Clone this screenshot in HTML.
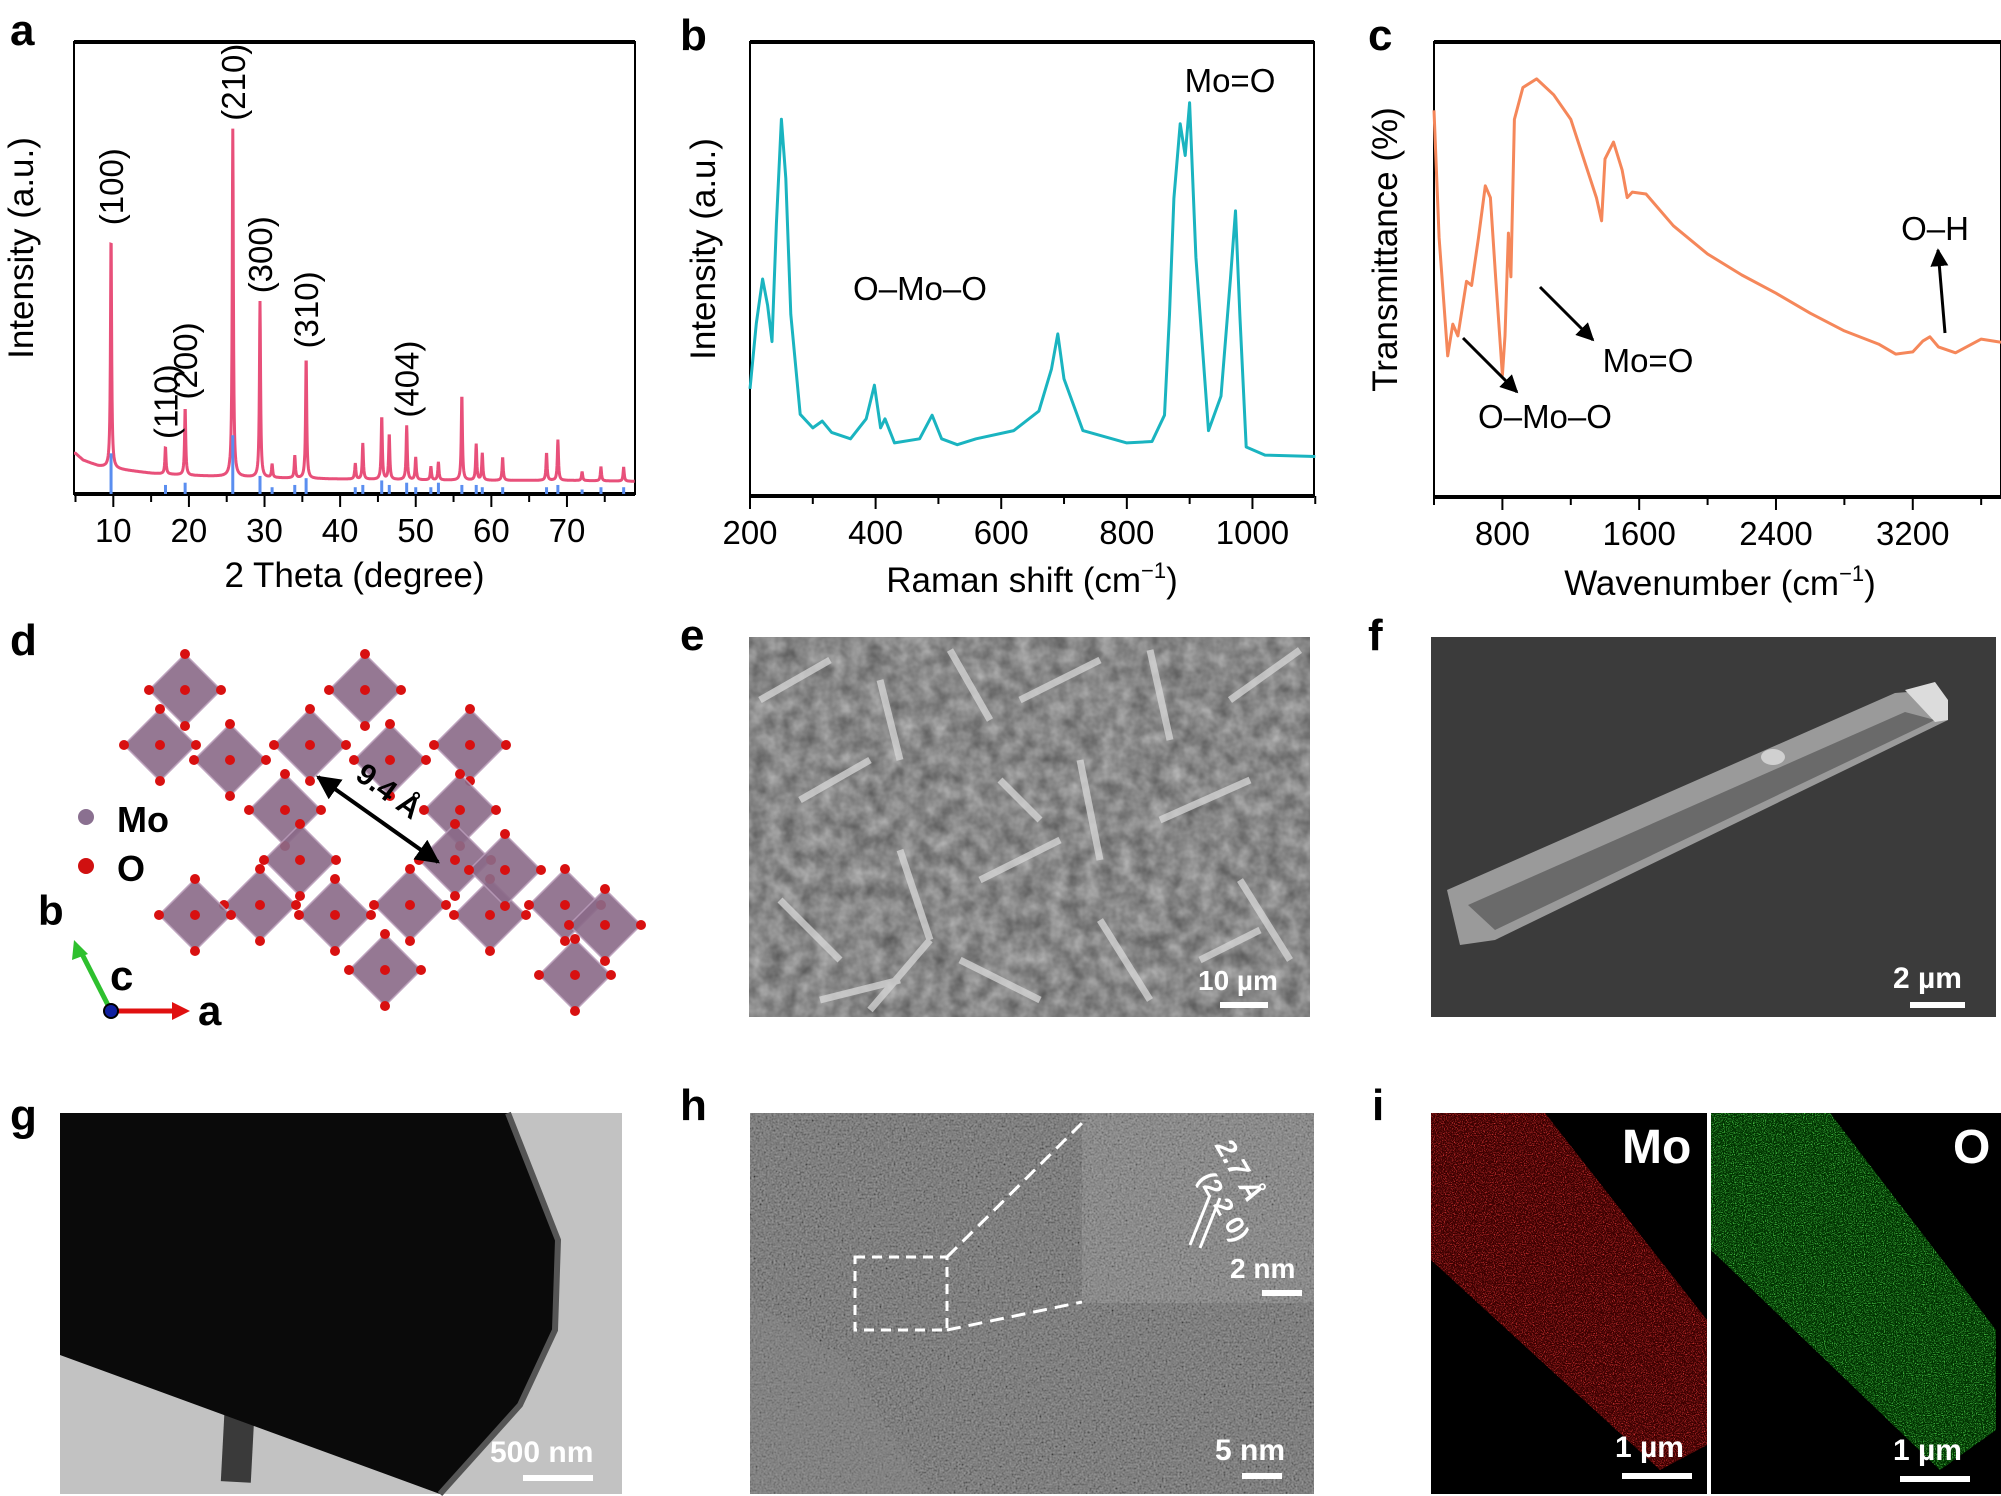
<!DOCTYPE html>
<html><head><meta charset="utf-8"><style>
html,body{margin:0;padding:0;background:#fff;}
svg{display:block;font-family:"Liberation Sans",Arial,sans-serif;}
</style></head><body>
<svg id="fig" width="2001" height="1496" viewBox="0 0 2001 1496" xmlns="http://www.w3.org/2000/svg">
<defs>
<filter id="semNoise" x="0" y="0" width="100%" height="100%"><feTurbulence type="fractalNoise" baseFrequency="0.06" numOctaves="3" seed="3"/><feColorMatrix type="matrix" values="0 0 0 0 0.45 0 0 0 0 0.45 0 0 0 0 0.45 -1.2 0 0 0 1.1"/></filter>
<filter id="hrNoise" x="0" y="0" width="100%" height="100%"><feTurbulence type="fractalNoise" baseFrequency="0.5" numOctaves="2" seed="5"/><feColorMatrix type="matrix" values="0.6 0.6 0 0 -0.25 0.6 0.6 0 0 -0.25 0.6 0.6 0 0 -0.25 0 0 0 0 1"/></filter>
<filter id="redNoise" x="0" y="0" width="100%" height="100%"><feTurbulence type="fractalNoise" baseFrequency="0.9" numOctaves="1" seed="7"/><feColorMatrix type="matrix" values="0 0 0 0 0.95 0 0 0 0 0.05 0 0 0 0 0.05 3 0 0 0 -1.45"/></filter>
<filter id="greenNoise" x="0" y="0" width="100%" height="100%"><feTurbulence type="fractalNoise" baseFrequency="0.9" numOctaves="1" seed="11"/><feColorMatrix type="matrix" values="0 0 0 0 0.1 0 0 0 0 0.85 0 0 0 0 0.1 3 0 0 0 -1.45"/></filter>
<clipPath id="clipRed"><polygon points="1431,1113 1545,1113 1707,1320 1707,1445 1660,1470 1431,1260"/></clipPath>
<clipPath id="clipGreen"><polygon points="1711,1113 1830,1113 1996,1330 1996,1430 1940,1470 1711,1250"/></clipPath>
<marker id="arrB" viewBox="0 0 10 10" refX="9" refY="5" markerWidth="6" markerHeight="6" orient="auto-start-reverse"><path d="M0,0 L10,5 L0,10 z" fill="#000"/></marker>
</defs>

<g font-weight="bold" font-size="44" fill="#000">
<text x="10" y="45">a</text>
<text x="680" y="50">b</text>
<text x="1368" y="50">c</text>
<text x="10" y="655">d</text>
<text x="680" y="650">e</text>
<text x="1368" y="650">f</text>
<text x="10" y="1130">g</text>
<text x="680" y="1120">h</text>
<text x="1372" y="1120">i</text>
</g>

<g id="chartA"></g>
<g id="chartB"></g>
<g id="chartC"></g>

<g id="panelD"></g>
<g>
<circle cx="86" cy="817" r="8" fill="#8a7090"/>
<text x="117" y="832" font-size="36" font-weight="bold">Mo</text>
<circle cx="86" cy="866" r="8" fill="#d01010"/>
<text x="117" y="881" font-size="36" font-weight="bold">O</text>
<line x1="111" y1="1011" x2="80" y2="950" stroke="#2ec02e" stroke-width="5"/>
<polygon points="74,940 72,960 88,954" fill="#2ec02e"/>
<line x1="111" y1="1011" x2="175" y2="1011" stroke="#e01010" stroke-width="5"/>
<polygon points="190,1011 172,1002 172,1020" fill="#e01010"/>
<circle cx="111" cy="1011" r="7" fill="#1020a0" stroke="#000" stroke-width="2"/>
<text x="38" y="925" font-size="42" font-weight="bold">b</text>
<text x="110" y="990" font-size="42" font-weight="bold">c</text>
<text x="198" y="1025" font-size="42" font-weight="bold">a</text>
<line x1="318" y1="777" x2="438" y2="862" stroke="#000" stroke-width="4" marker-start="url(#arrB)" marker-end="url(#arrB)"/>
<text x="350" y="790" font-size="30" font-weight="bold" transform="rotate(36 370 790)">9.4 Å</text>
</g>

<g>
<rect x="749" y="637" width="561" height="380" fill="#5c5c5c"/>
<rect x="749" y="637" width="561" height="380" filter="url(#semNoise)"/>
<g id="rods" stroke="#d8d8d8" stroke-width="7" opacity="0.75"></g>
<text x="1198" y="990" font-size="28" font-weight="bold" fill="#fff">10 µm</text>
<rect x="1220" y="1002" width="48" height="6" fill="#fff"/>
</g>

<g>
<rect x="1431" y="637" width="565" height="380" fill="#3b3b3b"/>
<polygon points="1447,890 1895,693 1935,690 1948,720 1495,940 1460,945" fill="#9a9a9a"/>
<polygon points="1468,905 1905,712 1935,720 1495,930" fill="#6a6a6a"/>
<polygon points="1905,690 1935,682 1948,700 1948,720 1935,722" fill="#dcdcdc"/>
<ellipse cx="1773" cy="757" rx="12" ry="8" fill="#d0d0d0"/>
<text x="1893" y="988" font-size="30" font-weight="bold" fill="#fff">2 µm</text>
<rect x="1910" y="1002" width="55" height="6" fill="#fff"/>
</g>

<g>
<rect x="60" y="1113" width="562" height="381" fill="#c2c2c2"/>
<rect x="223" y="1400" width="30" height="82" fill="#3a3a3a" transform="rotate(3 238 1440)"/>
<polygon points="60,1113 508,1113 558,1240 555,1330 520,1405 440,1494 60,1355" fill="#0a0a0a"/>
<polyline points="508,1113 558,1240 555,1330 520,1405 440,1494" fill="none" stroke="#555" stroke-width="6"/>
<text x="490" y="1462" font-size="30" font-weight="bold" fill="#fff">500 nm</text>
<rect x="523" y="1475" width="70" height="6" fill="#fff"/>
</g>

<g>
<rect x="750" y="1113" width="564" height="381" fill="#5e5e5e"/>
<rect x="750" y="1113" width="564" height="381" filter="url(#hrNoise)" opacity="0.5"/>
<polygon points="750,1300 845,1360 930,1494 750,1494" fill="#8a8a8a" opacity="0.3"/>
<rect x="1082" y="1113" width="232" height="190" fill="#7a7a7a"/>
<rect x="1082" y="1113" width="232" height="190" filter="url(#hrNoise)" opacity="0.45"/>
<rect x="855" y="1257" width="92" height="73" fill="none" stroke="#fff" stroke-width="3" stroke-dasharray="10 7"/>
<line x1="947" y1="1257" x2="1082" y2="1123" stroke="#fff" stroke-width="3" stroke-dasharray="14 8"/>
<line x1="947" y1="1330" x2="1082" y2="1302" stroke="#fff" stroke-width="3" stroke-dasharray="14 8"/>
<line x1="1190" y1="1245" x2="1210" y2="1195" stroke="#fff" stroke-width="3"/>
<line x1="1200" y1="1248" x2="1220" y2="1198" stroke="#fff" stroke-width="3"/>
<text x="1215" y="1175" font-size="28" font-weight="bold" fill="#fff" font-style="italic" transform="rotate(60 1240 1160)">2.7 Å</text>
<text x="1185" y="1200" font-size="26" font-weight="bold" fill="#fff" transform="rotate(60 1210 1200)">(2 2 0)</text>
<text x="1230" y="1278" font-size="28" font-weight="bold" fill="#fff">2 nm</text>
<rect x="1262" y="1290" width="40" height="6" fill="#fff"/>
<text x="1215" y="1460" font-size="30" font-weight="bold" fill="#fff">5 nm</text>
<rect x="1242" y="1473" width="40" height="6" fill="#fff"/>
</g>

<g>
<rect x="1431" y="1113" width="276" height="381" fill="#000"/>
<g clip-path="url(#clipRed)"><rect x="1431" y="1113" width="276" height="381" fill="#3a0000"/><rect x="1431" y="1113" width="276" height="381" filter="url(#redNoise)"/></g>
<text x="1622" y="1163" font-size="48" font-weight="bold" fill="#fff">Mo</text>
<text x="1615" y="1457" font-size="30" font-weight="bold" fill="#fff">1 µm</text>
<rect x="1622" y="1473" width="70" height="6" fill="#fff"/>
</g>
<g>
<rect x="1711" y="1113" width="290" height="381" fill="#000"/>
<g clip-path="url(#clipGreen)"><rect x="1711" y="1113" width="290" height="381" fill="#003000"/><rect x="1711" y="1113" width="290" height="381" filter="url(#greenNoise)"/></g>
<text x="1953" y="1163" font-size="48" font-weight="bold" fill="#fff">O</text>
<text x="1893" y="1460" font-size="30" font-weight="bold" fill="#fff">1 µm</text>
<rect x="1900" y="1476" width="70" height="6" fill="#fff"/>
</g>
</svg>

<script>
const xrdPeakPos = [9.7,16.9,19.5,25.8,29.4,31,34,35.5,42,43,45.5,46.5,48.8,50,52,53,56.1,58,58.8,61.5,67.3,68.8,72,74.5,77.5];
const xrdPeakHeight = [52,6,15,77,39,3,5,27,3.5,8,14,10,12,5,3,4,19,8,6,5,6,9,2,3,3];
const xrdBgX = [5,6,8,10,15,20,30,40,50,60,70,79];
const xrdBgY = [9,7.5,6.2,5.6,4.6,4.1,3.6,3.3,3.1,3,3,2.8];
const refPos = [9.7,16.9,19.5,25.8,29.4,31,34,35.5,42,43,45.5,46.5,48.8,50,52,53,56.1,58,58.8,61.5,67.3,68.8,72,74.5,77.5];
const refHeight = [9,2,2.5,13,4,1.5,2,3.5,1.5,2,3,2,2.5,1.5,1.5,2.5,2,2,1.5,1.5,1.5,2,1,1.5,1.5];
const xrdTicks = [10,20,30,40,50,60,70];
const xrdLabels = ["(100)","(110)","(200)","(210)","(300)","(310)","(404)"];
const xrdLabelPos = [9.7,16.9,19.5,25.8,29.4,35.5,48.8];
const ramanX = [200,210,220,228,235,242,250,257,265,280,300,315,330,360,385,398,408,415,430,470,490,505,530,560,620,660,680,690,700,730,800,840,860,868,875,885,893,900,910,930,950,965,973,980,990,1020,1100];
const ramanY = [23.6,38,47.8,42,34,60,83,70,40,18,15,16.5,14,12.6,17,24.4,15,17,11.7,12.6,17.8,12.6,11.3,12.6,14.4,18.7,28,35.7,25.8,14.4,11.7,12,17.8,40,65.6,82,75,86.6,52.6,14.4,22,48,62.8,39.6,10.8,9,8.7];
const ramanTicks = [200,400,600,800,1000];
const ftirX = [400,430,480,510,540,590,620,660,700,730,760,800,815,835,850,870,920,1000,1100,1200,1350,1380,1400,1450,1500,1530,1560,1640,1800,2000,2200,2400,2600,2800,3000,3100,3200,3260,3300,3350,3450,3600,3716];
const ftirY = [85,57,31,38,35.4,47.4,46.5,57,68.4,65.8,48.4,26.8,35.4,58,48.4,83,90,91.9,88.4,83,65.8,60.7,74.3,78,71.9,65.8,67,66.6,59.6,53.4,48.8,44.8,40.4,36.5,33.6,31.4,31.9,34.3,35.2,33,31.7,34.7,34];
const ftirTicks = [800,1600,2400,3200];

const NS="http://www.w3.org/2000/svg";
function mk(tag, attrs, parent){const e=document.createElementNS(NS,tag);for(const k in attrs)e.setAttribute(k,attrs[k]);parent.appendChild(e);return e;}
function lin(d0,d1,r0,r1){return v=>r0+(v-d0)*(r1-r0)/(d1-d0);}
function interp(xs,ys,x){if(x<=xs[0])return ys[0];for(let i=1;i<xs.length;i++){if(x<=xs[i]){const t=(x-xs[i-1])/(xs[i]-xs[i-1]);return ys[i-1]+t*(ys[i]-ys[i-1]);}}return ys[ys.length-1];}

function frame(g,L,T,R,B){
  const r=mk('rect',{x:L,y:T,width:R-L,height:B-T,fill:'none',stroke:'#000','stroke-width':2},g);
  
  
  mk('line',{x1:L,y1:T,x2:R,y2:T,stroke:'#000','stroke-width':4},g);
  mk('line',{x1:L,y1:B,x2:R,y2:B,stroke:'#000','stroke-width':4},g);
}
function xTicks(g,sx,ticks,minor,B,fmt){
  minor.forEach(v=>{mk('line',{x1:sx(v),y1:B,x2:sx(v),y2:B+8,stroke:'#000','stroke-width':2},g);});
  ticks.forEach(v=>{
    mk('line',{x1:sx(v),y1:B,x2:sx(v),y2:B+13,stroke:'#000','stroke-width':2},g);
    const t=mk('text',{x:sx(v),y:B+48,'font-size':33,'text-anchor':'middle'},g);
    t.textContent=fmt?fmt(v):v;
    
    
  });
}

(function(){
  const g=document.getElementById('chartA');
  const L=74,R=635,T=42,B=494;
  const sx=lin(4.8,79,L,R), sy=lin(0,100,B,T);
  frame(g,L,T,R,B);
  let d='';
  for(let x=4.8;x<=79;x+=0.04){
    let I=interp(xrdBgX,xrdBgY,x);
    for(let i=0;i<xrdPeakPos.length;i++){const w=0.09;const dx=x-xrdPeakPos[i];I+=xrdPeakHeight[i]/(1+(dx*dx)/(w*w));}
    d+=(d?'L':'M')+sx(x).toFixed(1)+','+sy(I).toFixed(1);
  }
  const p=mk('path',{d:d,fill:'none',stroke:'#e8507a','stroke-width':3},g);
  
  
  refPos.forEach((v,i)=>{
    const l=mk('line',{x1:sx(v),y1:B,x2:sx(v),y2:sy(refHeight[i]),stroke:'#5a8ef0','stroke-width':3},g);
    
    
  });
  const minor=[];for(let v=5;v<=75;v+=5)if(v%10)minor.push(v);
  xTicks(g,sx,xrdTicks,minor,B);
  xrdLabels.forEach((s,i)=>{
    const x=xrdLabelPos[i];
    const pk=xrdPeakHeight[xrdPeakPos.indexOf(x)];
    const y=sy(pk+interp(xrdBgX,xrdBgY,x))-8;
    const t=mk('text',{x:0,y:0,'font-size':33,transform:`translate(${sx(x)+12},${y}) rotate(-90)`},g);
    t.textContent=s;
    
    
  });
  const xt=mk('text',{x:(L+R)/2,y:587,'font-size':35,'text-anchor':'middle'},g);xt.textContent='2 Theta (degree)';
  
  const yt=mk('text',{x:0,y:0,'font-size':35,'text-anchor':'middle',transform:`translate(33,${(T+B)/2-20}) rotate(-90)`},g);yt.textContent='Intensity (a.u.)';
  
})();

(function(){
  const g=document.getElementById('chartB');
  const L=750,R=1314,T=42,B=496;
  const sx=lin(200,1098,L,R), sy=lin(0,100,B,T);
  frame(g,L,T,R,B);
  const d=ramanX.map((x,i)=>(i?'L':'M')+sx(x).toFixed(1)+','+sy(ramanY[i]).toFixed(1)).join('');
  const p=mk('path',{d:d,fill:'none',stroke:'#1ab4c0','stroke-width':3,'stroke-linejoin':'round'},g);
  
  
  xTicks(g,sx,ramanTicks,[300,500,700,900,1100],B);
  const a1=mk('text',{x:920,y:300,'font-size':33,'text-anchor':'middle'},g);a1.textContent='O–Mo–O';
  
  const a2=mk('text',{x:1230,y:92,'font-size':33,'text-anchor':'middle'},g);a2.textContent='Mo=O';
  
  const xt=mk('text',{x:(L+R)/2,y:592,'font-size':35,'text-anchor':'middle'},g);
  xt.innerHTML='Raman shift (cm<tspan font-size="22" dy="-14">−1</tspan><tspan dy="14">)</tspan>';
  
  const yt=mk('text',{x:0,y:0,'font-size':35,'text-anchor':'middle',transform:`translate(715,${(T+B)/2-20}) rotate(-90)`},g);yt.textContent='Intensity (a.u.)';
  
})();

(function(){
  const g=document.getElementById('chartC');
  const L=1434,R=2001,T=42,B=497;
  const sx=lin(400,3716,L,R), sy=lin(0,100,B,T);
  frame(g,L,T,R,B);
  const d=ftirX.map((x,i)=>(i?'L':'M')+sx(x).toFixed(1)+','+sy(ftirY[i]).toFixed(1)).join('');
  const p=mk('path',{d:d,fill:'none',stroke:'#f5875a','stroke-width':3,'stroke-linejoin':'round'},g);
  
  
  xTicks(g,sx,ftirTicks,[400,1200,2000,2800,3600],B);
  const anns=[['O–Mo–O',1545,428],['Mo=O',1648,372],['O–H',1935,240]];
  anns.forEach(a=>{const t=mk('text',{x:a[1],y:a[2],'font-size':33,'text-anchor':'middle'},g);t.textContent=a[0];
    });
  mk('line',{x1:1463,y1:338,x2:1517,y2:392,stroke:'#000','stroke-width':3,'marker-end':'url(#arrB)'},g);
  mk('line',{x1:1540,y1:287,x2:1593,y2:340,stroke:'#000','stroke-width':3,'marker-end':'url(#arrB)'},g);
  mk('line',{x1:1945,y1:333,x2:1938,y2:250,stroke:'#000','stroke-width':3,'marker-end':'url(#arrB)'},g);
  const xt=mk('text',{x:1720,y:595,'font-size':35,'text-anchor':'middle'},g);
  xt.innerHTML='Wavenumber (cm<tspan font-size="22" dy="-14">−1</tspan><tspan dy="14">)</tspan>';
  
  const yt=mk('text',{x:0,y:0,'font-size':35,'text-anchor':'middle',transform:`translate(1397,${(T+B)/2-20}) rotate(-90)`},g);yt.textContent='Transmittance (%)';
  
})();

(function(){
  const g=document.getElementById('panelD');
  const cs=[[185,690],[365,690],[160,745],[230,760],[310,745],[390,760],[470,745],[285,810],[460,810],[300,860],[455,860],[260,905],[335,915],[410,905],[490,915],[565,905],[605,925],[385,970],[575,975],[195,915],[505,870]];
  cs.forEach(c=>{
    const [x,y]=c,r=36;
    const pts=[[x,y-r],[x+r,y],[x,y+r],[x-r,y]];
    const pg=mk('polygon',{points:pts.map(p=>p.join(',')).join(' '),fill:'#8a6a88',stroke:'#b89ab8','stroke-width':1.5,opacity:0.9},g);
    
    
    pts.concat([[x,y]]).forEach(p=>mk('circle',{cx:p[0],cy:p[1],r:5,fill:'#d81010'},g));
  });
  const rods=document.getElementById('rods');
  const segs=[[760,700,830,660],[800,800,870,760],[880,680,900,760],[950,650,990,720],[1020,700,1100,660],[1150,650,1170,740],[1230,700,1300,650],[780,900,840,960],[900,850,930,940],[980,880,1060,840],[1080,760,1100,860],[1160,820,1250,780],[1240,880,1290,960],[1100,920,1150,1000],[960,960,1040,1000],[820,1000,900,980],[1000,780,1040,820],[1200,960,1260,930],[870,1010,930,940]];
  segs.forEach(s=>mk('line',{x1:s[0],y1:s[1],x2:s[2],y2:s[3]},rods));
})();
</script>
</body></html>
